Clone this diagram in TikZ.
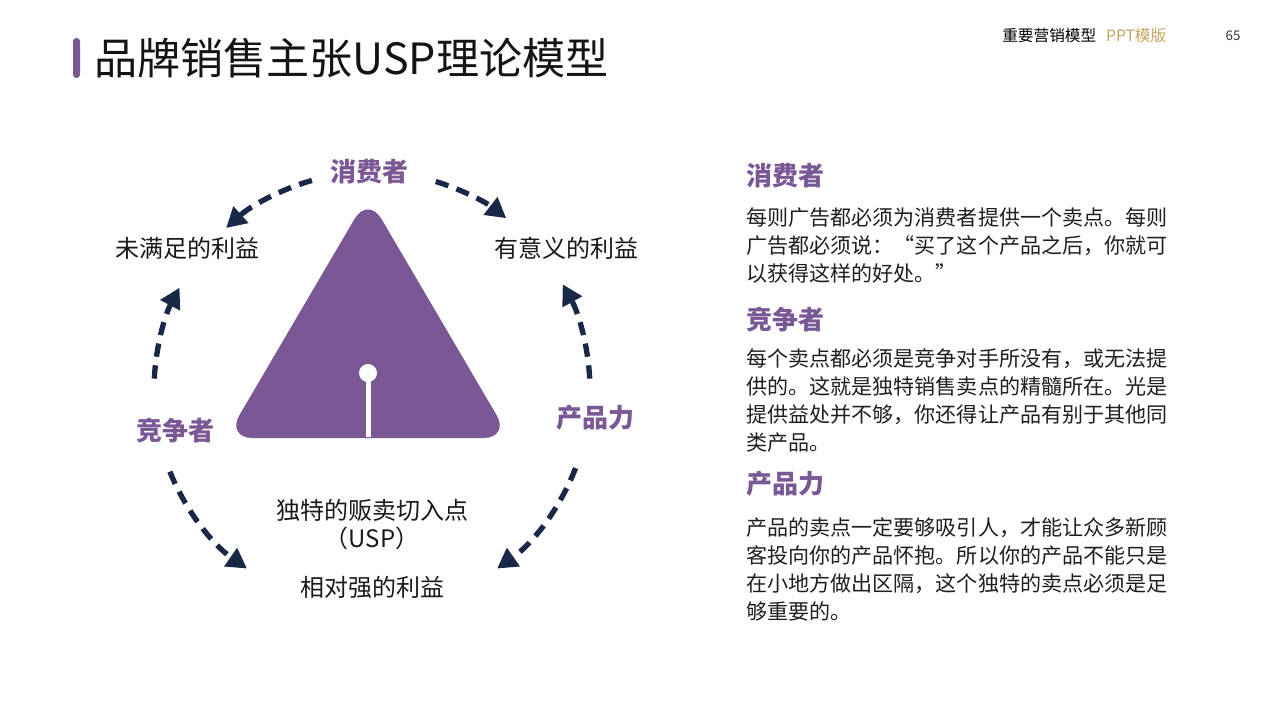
\documentclass[tikz,border=0pt]{standalone}
\usepackage{fontspec}
\setmainfont{Noto Sans CJK SC}
\usepackage{xcolor}
\usepackage{tikz}
\usetikzlibrary{arrows.meta,positioning}

\definecolor{uspPurple}{RGB}{122,88,150}
\definecolor{uspNavy}{RGB}{26,40,72}
\definecolor{uspGold}{RGB}{198,164,96}
\newcommand{\sz}[2]{\fontsize{#1}{#2}\selectfont}

\begin{document}
\begin{tikzpicture}[x=0.75pt,y=-0.75pt,
  tag/.style={font=\sz{19.5}{24}\bfseries,text=uspPurple,inner sep=0pt},
  lbl/.style={font=\sz{18}{22},text=black!90,inner sep=0pt},
  body/.style={font=\sz{15.8}{21},text=black!88,align=left,inner sep=0pt,anchor=north west},
  cyc/.style={draw=uspNavy,line width=4pt,dash pattern=on 10pt off 6.5pt,
    -{Triangle[length=15pt,width=16pt]}}]
% page
\fill[white] (0,0) rectangle (1280,720);
\useasboundingbox (0,0) rectangle (1280,720);
% title and header
\fill[uspPurple,rounded corners=2.5pt] (73,38) rectangle (80,78);
\node[anchor=west,inner sep=0pt,font=\sz{32.3}{38},text=black!92] (title) at (94,58) {品牌销售主张USP理论模型};
\node[anchor=west,inner sep=0pt,font=\sz{11.75}{14}] (series) at (1002,36) {重要营销模型};
\node[right=7pt of series,inner sep=0pt,font=\sz{11.75}{14},text=uspGold] (tpl) {PPT模版};
\node[inner sep=0pt,font=\sz{10}{12},text=black!80] (page) at (1233,36) {65};
% triangle with pin
\fill[uspPurple,rounded corners=20pt] (368,196) -- (510,438) -- (226,438) -- cycle;
\coordinate (base) at (368,437);
\node[circle,fill=white,inner sep=0pt,minimum size=13.5pt] (pin) at (368,373) {};
\draw[white,line width=3.75pt] (pin.center) -- (base);
% cycle labels
\node[tag] (consumer) at (369,172) {消费者};
\node[tag] (rival) at (175,431) {竞争者};
\node[tag] (product) at (595,418) {产品力};
\node[lbl] (unmet) at (187,248) {未满足的利益};
\node[lbl] (meaning) at (566,248) {有意义的利益};
\node[lbl] (usp) at (372,510) {独特的贩卖切入点};
\node[lbl] (uspabbr) at (372,538) {（USP）};
\node[lbl] (strong) at (372,587) {相对强的利益};
% dashed arrows round the triangle
\coordinate (hub) at (372,390);
\foreach \s/\e in {-106/-132,-73/-52,-177/-152,-3/-29,-202/-235,21/55}
  \draw[cyc] ([shift={(\s:218)}]hub) arc[start angle=\s,end angle=\e,radius=218];
% explanations
\node[tag,anchor=west] (h1) at (746,176) {消费者};
\node[body] (p1) at (746,207) {每则广告都必须为消费者提供一个卖点。每则\\广告都必须说：“买了这个产品之后，你就可\\以获得这样的好处。”};
\node[tag,anchor=west] (h2) at (746,320) {竞争者};
\node[body] (p2) at (746,348) {每个卖点都必须是竞争对手所没有，或无法提\\供的。这就是独特销售卖点的精髓所在。光是\\提供益处并不够，你还得让产品有别于其他同\\类产品。};
\node[tag,anchor=west] (h3) at (746,484) {产品力};
\node[body] (p3) at (746,517) {产品的卖点一定要够吸引人，才能让众多新顾\\客投向你的产品怀抱。所以你的产品不能只是\\在小地方做出区隔，这个独特的卖点必须是足\\够重要的。};
\end{tikzpicture}
\end{document}
